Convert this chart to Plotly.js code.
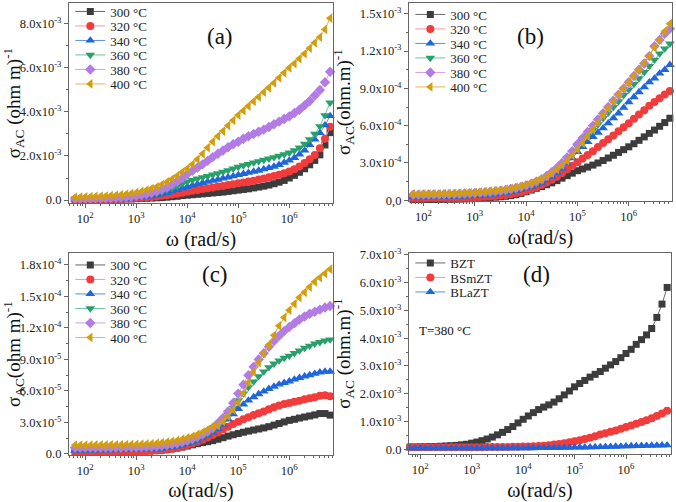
<!DOCTYPE html>
<html><head><meta charset="utf-8">
<script src="https://cdn.plot.ly/plotly-3.0.1.min.js"></script>
<style>html,body{margin:0;padding:0;background:#fff;} #chart{width:676px;height:502px;}</style>
</head><body><div id="chart"></div>
<script>
// angular frequency (rad/s)
const omega = [63.1, 79.4, 100, 126, 158, 200, 251, 316, 398, 501,
  631, 794, 1000, 1259, 1585, 1995, 2512, 3162, 3981, 5012,
  6310, 7943, 1.0e4, 1.26e4, 1.58e4, 2.0e4, 2.51e4, 3.16e4, 3.98e4, 5.01e4,
  6.31e4, 7.94e4, 1.0e5, 1.26e5, 1.58e5, 2.0e5, 2.51e5, 3.16e5, 3.98e5, 5.01e5,
  6.31e5, 7.94e5, 1.0e6, 1.26e6, 1.58e6, 2.0e6, 2.51e6, 3.16e6, 3.98e6, 5.01e6, 6.31e6];

const tempLabels = ['300 °C', '320 °C', '340 °C', '360 °C', '380 °C', '400 °C'];
const sampleLabels = ['BZT', 'BSmZT', 'BLaZT'];

// Panel (a) sigma_AC in units of 1e-3
const a300 = [0.02,0.02,0.02,0.02,0.03,0.03,0.03,0.03,0.04,0.04,0.05,0.05,
  0.06,0.07,0.08,0.09,0.10,0.11,0.13,0.15,0.17,0.20,0.22,0.24,0.26,0.28,0.30,0.32,0.34,0.36,0.39,0.42,
  0.45,0.48,0.51,0.55,0.59,0.63,0.68,0.74,0.81,0.89,1.00,1.12,1.26,1.42,1.60,1.80,2.05,2.50,3.06];
const a320 = [0.03,0.03,0.03,0.03,0.04,0.04,0.04,0.05,0.05,0.06,0.07,0.08,
  0.09,0.10,0.12,0.14,0.16,0.19,0.22,0.25,0.29,0.33,0.38,0.42,0.46,0.50,0.54,0.57,0.61,0.64,0.68,0.72,
  0.76,0.80,0.84,0.88,0.93,0.98,1.03,1.09,1.15,1.22,1.30,1.40,1.52,1.68,1.85,2.05,2.35,2.78,3.33];
const a340 = [0.03,0.03,0.04,0.04,0.04,0.05,0.05,0.06,0.06,0.07,0.08,0.09,
  0.11,0.13,0.15,0.18,0.22,0.27,0.33,0.40,0.46,0.53,0.60,0.66,0.72,0.78,0.83,0.88,0.93,0.98,1.03,1.08,
  1.14,1.19,1.24,1.29,1.34,1.40,1.46,1.52,1.60,1.70,1.80,1.92,2.07,2.25,2.50,2.75,3.05,3.40,3.82];
const a360 = [0.04,0.04,0.05,0.05,0.05,0.06,0.06,0.07,0.08,0.09,0.10,0.12,
  0.14,0.17,0.20,0.25,0.30,0.37,0.45,0.54,0.63,0.73,0.83,0.90,0.97,1.03,1.09,1.15,1.21,1.28,1.35,1.43,
  1.50,1.57,1.63,1.70,1.76,1.82,1.88,1.94,2.00,2.07,2.15,2.25,2.38,2.55,2.75,3.00,3.35,3.85,4.42];
const a380 = [0.05,0.05,0.06,0.06,0.07,0.07,0.08,0.09,0.10,0.11,0.13,0.15,
  0.18,0.22,0.27,0.33,0.40,0.48,0.58,0.70,0.84,1.00,1.18,1.33,1.47,1.62,1.78,1.95,2.10,2.25,2.40,2.53,
  2.65,2.78,2.90,3.00,3.10,3.20,3.32,3.44,3.56,3.68,3.80,3.95,4.10,4.30,4.50,4.75,5.00,5.35,5.83];
const a400 = [0.12,0.13,0.14,0.15,0.16,0.17,0.18,0.20,0.22,0.24,0.27,0.30,
  0.34,0.39,0.45,0.52,0.60,0.70,0.82,0.95,1.10,1.26,1.43,1.62,1.85,2.10,2.38,2.65,2.90,3.13,3.38,3.62,
  3.86,4.06,4.27,4.48,4.68,4.90,5.10,5.32,5.55,5.78,6.00,6.20,6.42,6.65,6.90,7.15,7.40,7.75,8.26];

// Panel (b) sigma_AC in units of 1e-4
const b300 = [0.05,0.05,0.06,0.06,0.06,0.07,0.07,0.08,0.09,0.10,0.11,0.13,
  0.15,0.17,0.19,0.22,0.25,0.28,0.32,0.37,0.45,0.55,0.68,0.82,0.96,1.10,1.25,1.40,1.58,1.78,1.98,2.18,
  2.38,2.52,2.67,2.83,3.00,3.20,3.40,3.62,3.85,4.07,4.30,4.55,4.82,5.10,5.38,5.65,5.95,6.25,6.60];
const b320 = [0.15,0.15,0.15,0.16,0.16,0.17,0.17,0.18,0.19,0.20,0.21,0.22,
  0.24,0.26,0.28,0.31,0.34,0.38,0.43,0.49,0.56,0.65,0.76,0.90,1.05,1.22,1.42,1.65,1.90,2.18,2.48,2.78,
  3.05,3.35,3.65,3.95,4.28,4.60,4.90,5.22,5.55,5.88,6.20,6.55,6.90,7.25,7.60,7.90,8.20,8.50,8.80];
const b340 = [0.25,0.25,0.26,0.26,0.27,0.27,0.28,0.29,0.30,0.31,0.32,0.34,
  0.36,0.38,0.41,0.44,0.48,0.53,0.59,0.66,0.75,0.85,0.97,1.10,1.25,1.42,1.62,1.90,2.20,2.55,2.95,3.40,
  3.90,4.30,4.70,5.10,5.45,5.80,6.20,6.60,7.00,7.45,7.90,8.30,8.70,9.10,9.50,9.80,10.20,10.50,10.90];
const b360 = [0.35,0.35,0.36,0.36,0.37,0.37,0.38,0.39,0.40,0.41,0.43,0.45,
  0.47,0.50,0.53,0.57,0.61,0.66,0.72,0.80,0.88,0.98,1.10,1.24,1.40,1.60,1.85,2.15,2.50,2.90,3.35,3.85,
  4.30,4.75,5.20,5.65,6.10,6.60,7.05,7.50,7.95,8.45,8.90,9.35,9.80,10.30,10.80,11.30,11.80,12.20,12.60];
const b380 = [0.45,0.45,0.46,0.46,0.47,0.47,0.48,0.49,0.50,0.52,0.54,0.56,
  0.58,0.61,0.64,0.68,0.72,0.77,0.83,0.90,0.98,1.08,1.20,1.34,1.50,1.70,1.95,2.25,2.60,3.00,3.45,3.95,
  4.50,5.00,5.50,6.00,6.50,7.00,7.50,8.00,8.50,9.00,9.50,10.00,10.50,11.00,11.60,12.40,12.90,13.40,13.80];
const b400 = [0.50,0.50,0.51,0.51,0.52,0.52,0.53,0.54,0.55,0.57,0.59,0.61,
  0.63,0.66,0.69,0.73,0.77,0.82,0.88,0.95,1.03,1.13,1.24,1.37,1.52,1.70,1.92,2.18,2.48,2.82,3.20,3.62,
  4.10,4.60,5.15,5.70,6.25,6.85,7.40,7.95,8.50,9.00,9.50,10.00,10.50,11.05,11.60,12.30,12.90,13.60,14.20];

// Panel (c) sigma_AC in units of 1e-5
const c300 = [0.25,0.25,0.25,0.25,0.25,0.26,0.26,0.26,0.27,0.27,0.28,0.28,
  0.29,0.30,0.31,0.33,0.35,0.38,0.42,0.48,0.56,0.65,0.75,0.87,0.98,1.08,1.17,1.27,1.40,1.55,1.70,1.83,
  1.95,2.07,2.18,2.28,2.38,2.48,2.60,2.75,2.90,3.05,3.20,3.30,3.42,3.52,3.62,3.72,3.85,3.85,3.70];
const c320 = [0.20,0.20,0.20,0.20,0.20,0.21,0.21,0.21,0.22,0.22,0.23,0.23,
  0.24,0.25,0.27,0.29,0.32,0.36,0.42,0.50,0.60,0.72,0.85,1.00,1.17,1.36,1.58,1.80,2.05,2.32,2.60,2.85,
  3.08,3.30,3.50,3.70,3.88,4.05,4.25,4.45,4.62,4.75,4.85,4.97,5.08,5.20,5.30,5.40,5.55,5.60,5.50];
const c340 = [0.35,0.35,0.35,0.35,0.36,0.36,0.36,0.37,0.37,0.38,0.38,0.39,
  0.40,0.41,0.43,0.45,0.48,0.52,0.57,0.64,0.72,0.82,0.95,1.10,1.28,1.50,1.76,2.05,2.40,2.80,3.30,3.80,
  4.30,4.72,5.10,5.42,5.70,5.95,6.20,6.42,6.62,6.78,6.92,7.10,7.25,7.40,7.52,7.65,7.78,7.85,7.85];
const c360 = [0.45,0.45,0.45,0.45,0.46,0.46,0.46,0.47,0.47,0.48,0.48,0.49,
  0.50,0.52,0.54,0.57,0.60,0.65,0.71,0.78,0.87,0.98,1.10,1.26,1.45,1.68,1.95,2.27,2.67,3.15,3.75,4.40,
  5.10,5.75,6.35,6.90,7.40,7.85,8.25,8.60,8.90,9.15,9.35,9.60,9.85,10.10,10.30,10.50,10.65,10.80,10.90];
const c380 = [0.60,0.60,0.60,0.60,0.60,0.61,0.61,0.61,0.62,0.62,0.63,0.63,
  0.64,0.66,0.68,0.71,0.74,0.79,0.85,0.93,1.02,1.13,1.27,1.44,1.64,1.88,2.16,2.50,2.92,3.42,4.05,4.85,
  5.75,6.60,7.50,8.30,9.00,9.60,10.20,10.75,11.25,11.70,12.10,12.45,12.80,13.10,13.35,13.55,13.75,13.95,14.10];
const c400 = [0.85,0.85,0.85,0.85,0.86,0.86,0.86,0.87,0.87,0.88,0.89,0.90,
  0.91,0.93,0.95,0.98,1.02,1.07,1.13,1.20,1.29,1.40,1.53,1.68,1.86,2.07,2.32,2.62,2.70,3.10,3.60,4.20,
  4.90,5.80,6.80,7.80,8.70,9.60,10.40,11.30,12.20,13.00,13.70,14.30,14.90,15.40,15.90,16.40,16.80,17.20,17.60];

// Panel (d) sigma_AC at 380 °C in units of 1e-3
const dBZT = [0.08,0.08,0.09,0.09,0.10,0.10,0.11,0.12,0.13,0.14,0.16,0.18,
  0.22,0.26,0.31,0.37,0.44,0.52,0.61,0.71,0.82,0.95,1.08,1.20,1.32,1.43,1.52,1.60,1.70,1.82,1.96,2.10,
  2.25,2.37,2.48,2.60,2.70,2.80,2.92,3.04,3.16,3.30,3.45,3.60,3.78,3.95,4.12,4.35,4.75,5.23,5.83];
const dBSmZT = [0.07,0.07,0.07,0.07,0.07,0.07,0.07,0.07,0.07,0.07,0.07,0.07,
  0.07,0.07,0.07,0.08,0.08,0.08,0.08,0.08,0.09,0.09,0.10,0.10,0.11,0.12,0.13,0.15,0.17,0.19,0.22,0.25,
  0.29,0.33,0.37,0.42,0.47,0.53,0.58,0.63,0.68,0.74,0.80,0.86,0.92,0.98,1.05,1.12,1.20,1.29,1.39];
const dBLaZT = [0.04,0.04,0.04,0.04,0.04,0.04,0.04,0.04,0.04,0.04,0.04,0.04,
  0.04,0.04,0.04,0.04,0.04,0.04,0.04,0.04,0.04,0.04,0.04,0.045,0.045,0.05,0.05,0.05,0.055,0.055,0.06,0.06,
  0.065,0.07,0.07,0.075,0.08,0.085,0.09,0.095,0.10,0.105,0.11,0.115,0.12,0.125,0.13,0.135,0.14,0.145,0.15];

const colors = ['#3c3c3c', '#f23b3b', '#1f66dd', '#27a06a', '#b27be6', '#d39e0e'];
const lineColors = ['#6a6a6a', '#f59a9a', '#5b8fe6', '#6cc5a0', '#d9a0dc', '#e0b64a'];
const symbols = ['square', 'circle', 'triangle-up', 'triangle-down', 'diamond', 'triangle-left'];
const sizes = [7, 8, 8.5, 8.5, 8, 8.5];

const FONT = 'Liberation Serif';
const traces = [];
function addSet(sets, labels, scale, xa, ya, leg, idxs) {
  sets.forEach((vals, k) => {
    const c = idxs[k];
    traces.push({
      x: omega, y: vals.map(v => v * scale), name: labels[k],
      xaxis: xa, yaxis: ya, legend: leg, type: 'scatter', mode: 'lines+markers',
      cliponaxis: false,
      line: {color: lineColors[c], width: 1},
      marker: {color: colors[c], symbol: symbols[c], size: sizes[c], line: {width: 0}}
    });
  });
}
addSet([a300, a320, a340, a360, a380, a400], tempLabels, 1e-3, 'x', 'y', 'legend', [0,1,2,3,4,5]);
addSet([b300, b320, b340, b360, b380, b400], tempLabels, 1e-4, 'x2', 'y2', 'legend2', [0,1,2,3,4,5]);
addSet([c300, c320, c340, c360, c380, c400], tempLabels, 1e-5, 'x3', 'y3', 'legend3', [0,1,2,3,4,5]);
addSet([dBZT, dBSmZT, dBLaZT], sampleLabels, 1e-3, 'x4', 'y4', 'legend4', [0,1,2]);

const xTickVals = [1e2, 1e3, 1e4, 1e5, 1e6];
const xTickText = ['10<sup>2</sup>', '10<sup>3</sup>', '10<sup>4</sup>', '10<sup>5</sup>', '10<sup>6</sup>'];

function xAxis(range, dom, anchor, title) {
  return {
    type: 'log', range: range, domain: dom, anchor: anchor,
    showline: true, mirror: true, linecolor: '#666', linewidth: 1,
    ticks: 'outside', ticklen: 4, tickcolor: '#666',
    tickmode: 'array', tickvals: xTickVals, ticktext: xTickText,
    minor: {ticks: 'outside', ticklen: 2, tickcolor: '#666', dtick: 'D1'},
    showgrid: false, zeroline: false,
    tickfont: {family: FONT, size: 12.5, color: '#222'},
    title: {text: title, font: {family: FONT, size: 20, color: '#111'}, standoff: 6}
  };
}
function yAxis(range, dom, anchor, vals, text, minorStep, title) {
  return {
    range: range, domain: dom, anchor: anchor,
    showline: true, mirror: true, linecolor: '#666', linewidth: 1,
    ticks: 'outside', ticklen: 4, tickcolor: '#666',
    tickmode: 'array', tickvals: vals, ticktext: text,
    minor: {ticks: 'outside', ticklen: 2, tickcolor: '#666', tick0: 0, dtick: minorStep},
    showgrid: false, zeroline: false,
    tickfont: {family: FONT, size: 12.5, color: '#222'},
    title: {text: title, font: {family: FONT, size: 19, color: '#111'}, standoff: 4}
  };
}

const yA = [0, 2e-3, 4e-3, 6e-3, 8e-3];
const yAText = ['0.0', '2.0x10<sup>-3</sup>', '4.0x10<sup>-3</sup>', '6.0x10<sup>-3</sup>', '8.0x10<sup>-3</sup>'];
const yB = [0, 3e-4, 6e-4, 9e-4, 1.2e-3, 1.5e-3];
const yBText = ['0,0', '3.0x10<sup>-4</sup>', '6.0x10<sup>-4</sup>', '9.0x10<sup>-4</sup>', '1.2x10<sup>-3</sup>', '1.5x10<sup>-3</sup>'];
const yC = [0, 3e-5, 6e-5, 9e-5, 1.2e-4, 1.5e-4, 1.8e-4];
const yCText = ['0.0', '3.0x10<sup>-5</sup>', '6.0x10<sup>-5</sup>', '9.0x10<sup>-5</sup>', '1.2x10<sup>-4</sup>', '1.5x10<sup>-4</sup>', '1.8x10<sup>-4</sup>'];
const yD = [0, 1e-3, 2e-3, 3e-3, 4e-3, 5e-3, 6e-3, 7e-3];
const yDText = ['0.0', '1.0x10<sup>-3</sup>', '2.0x10<sup>-3</sup>', '3.0x10<sup>-3</sup>', '4.0x10<sup>-3</sup>', '5.0x10<sup>-3</sup>', '6.0x10<sup>-3</sup>', '7.0x10<sup>-3</sup>'];

const legBase = {bgcolor: 'rgba(0,0,0,0)', borderwidth: 0, font: {family: FONT, size: 13, color: '#222'},
  xanchor: 'left', yanchor: 'top', tracegroupgap: 0, itemwidth: 30};

const layout = {
  width: 676, height: 502, margin: {l: 0, r: 0, t: 0, b: 0, autoexpand: false},
  paper_bgcolor: '#fff', plot_bgcolor: '#fff', showlegend: true,
  font: {family: FONT},
  xaxis: xAxis([1.68, 6.857], [0.102, 0.4926], 'y', 'ω (rad/s)'),
  yaxis: yAxis([-0.136e-3, 8.95e-3], [0.5956, 0.994], 'x', yA, yAText, 1e-3, 'σ<sub>AC</sub> (ohm m)<sup>-1</sup>'),
  xaxis2: xAxis([1.72, 6.84], [0.605, 0.994], 'y2', 'ω(rad/s)'),
  yaxis2: yAxis([-0.006e-3, 1.587e-3], [0.5996, 0.994], 'x2', yB, yBText, 1.5e-4, 'σ<sub>AC</sub>(ohm.m)<sup>-1</sup>'),
  xaxis3: xAxis([1.68, 6.857], [0.102, 0.4926], 'y3', 'ω(rad/s)'),
  yaxis3: yAxis([-0.1e-5, 19.14e-5], [0.0936, 0.496], 'x3', yC, yCText, 1.5e-5, 'σ<sub>AC</sub>(ohm m)<sup>-1</sup>'),
  xaxis4: xAxis([1.78, 6.875], [0.605, 0.9926], 'y4', 'ω(rad/s)'),
  yaxis4: yAxis([-0.17e-3, 7.07e-3], [0.0956, 0.496], 'x4', yD, yDText, 0.5e-3, 'σ<sub>AC</sub> (ohm.m)<sup>-1</sup>'),
  legend: Object.assign({}, legBase, {x: 0.104, y: 0.999}),
  legend2: Object.assign({}, legBase, {x: 0.607, y: 0.999}),
  legend3: Object.assign({}, legBase, {x: 0.104, y: 0.5}),
  legend4: Object.assign({}, legBase, {x: 0.607, y: 0.502}),
  annotations: [
    {text: '(a)', xref: 'paper', yref: 'paper', x: 205/676, y: 1 - 22/502, showarrow: false, font: {family: FONT, size: 23, color: '#111'}},
    {text: '(b)', xref: 'paper', yref: 'paper', x: 546/676, y: 1 - 22/502, showarrow: false, font: {family: FONT, size: 23, color: '#111'}},
    {text: '(c)', xref: 'paper', yref: 'paper', x: 200/676, y: 1 - 274/502, showarrow: false, font: {family: FONT, size: 23, color: '#111'}},
    {text: '(d)', xref: 'paper', yref: 'paper', x: 552/676, y: 1 - 274/502, showarrow: false, font: {family: FONT, size: 23, color: '#111'}},
    {text: 'T=380 °C', xref: 'paper', yref: 'paper', x: 473/676, y: 1 - 330/502, showarrow: false, font: {family: FONT, size: 13, color: '#111'}}
  ]
};

// tighten the vertical spacing of legend entries to match the reference
const LEGEND_STEP = 14.5;
const LEGEND_SHIFT = {legend: -4, legend2: -1, legend3: -1, legend4: -2};
function tightenLegends(gd) {
  gd.querySelectorAll('g.infolayer > g').forEach(function (lg) {
    const cls = (lg.getAttribute('class') || '').split(' ')[0];
    if (!/^legend\d*$/.test(cls)) return;
    const shift = LEGEND_SHIFT[cls] || 0;
    const items = lg.querySelectorAll('g.traces');
    let y0 = null;
    items.forEach(function (it, i) {
      const tr = it.getAttribute('transform') || '';
      const m = tr.match(/translate\(\s*([-\d.e]+)[ ,]+([-\d.e]+)\s*\)/);
      if (!m) return;
      const x = parseFloat(m[1]), y = parseFloat(m[2]);
      if (y0 === null) y0 = y;
      it.setAttribute('transform', 'translate(' + x + ',' + (y0 + shift + i * LEGEND_STEP) + ')');
    });
  });
}

Plotly.newPlot('chart', traces, layout, {staticPlot: true, displayModeBar: false})
  .then(function (gd) { tightenLegends(gd); });
</script>
</body></html>
